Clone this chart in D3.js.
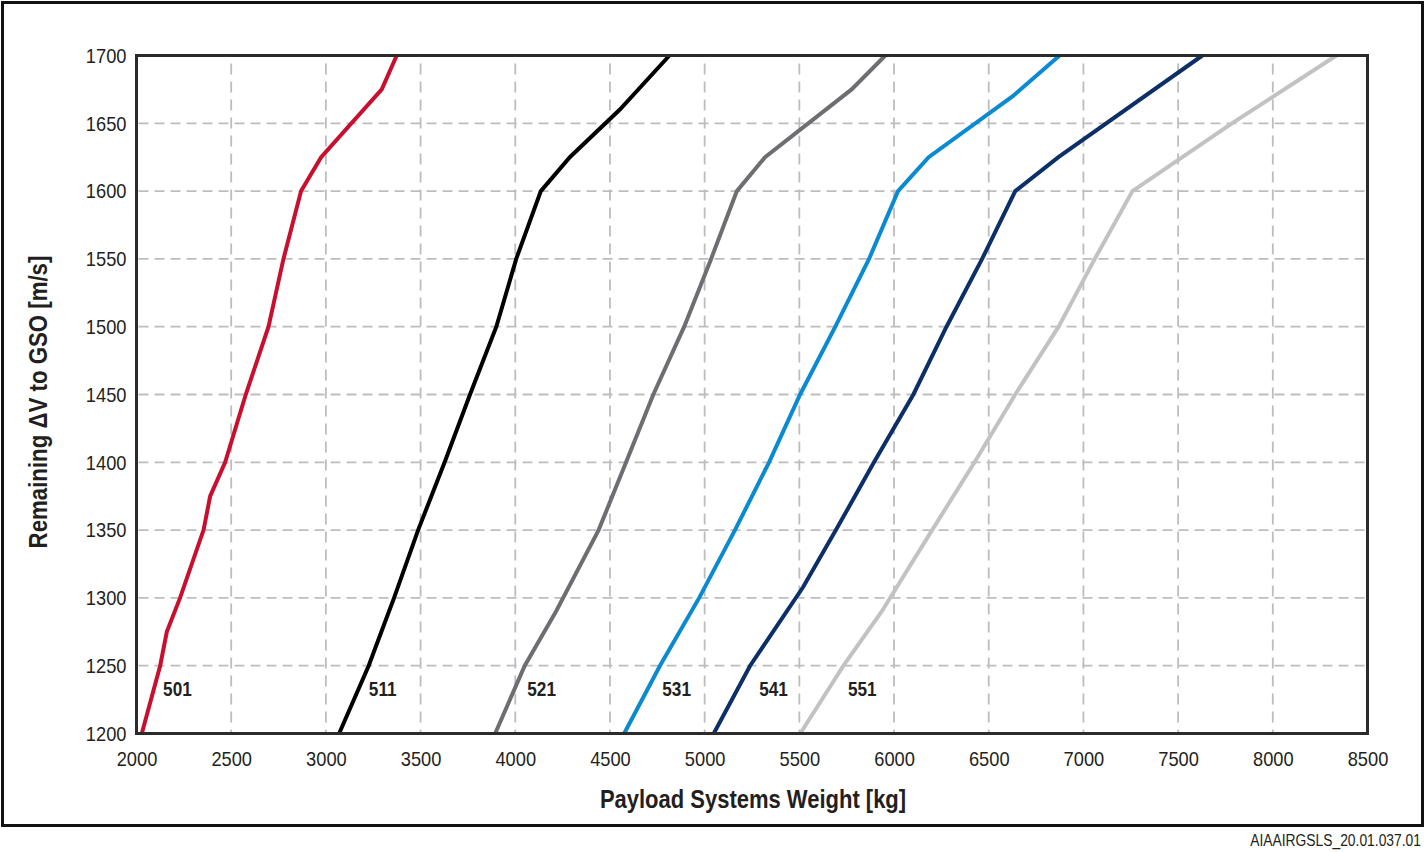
<!DOCTYPE html>
<html>
<head>
<meta charset="utf-8">
<script src="https://cdn.jsdelivr.net/npm/d3@7"></script>
<style>
  html, body { margin: 0; padding: 0; background: #fff; }
  svg { display: block; }
  text { font-family: "Liberation Sans", Arial, sans-serif; fill: #231f20; }
</style>
</head>
<body>
<svg id="chart" width="1426" height="852"></svg>
<script>
// ---------- data ----------
const categories = ["501", "511", "521", "531", "541", "551"];
const colors = ["#c8102e", "#000000", "#6d6e71", "#0a8ad0", "#0b2f66", "#c2c2c2"];

// [payload weight kg, remaining dV m/s]
const s501 = [[2028,1200],[2125,1250],[2160,1275],[2230,1300],[2354,1350],[2389,1375],[2468,1400],[2577,1450],[2697,1500],[2776,1550],[2869,1600],[2975,1625],[3295,1675],[3374,1700]];
const s511 = [[3070,1200],[3226,1250],[3293,1275],[3360,1300],[3487,1350],[3627,1400],[3761,1450],[3900,1500],[4005,1550],[4135,1600],[4288,1625],[4551,1660],[4814,1700]];
const s521 = [[3894,1200],[4050,1250],[4215,1290],[4440,1350],[4585,1400],[4729,1450],[4892,1500],[5034,1550],[5170,1600],[5319,1625],[5776,1675],[5954,1700]];
const s531 = [[4575,1200],[4764,1250],[4971,1300],[5160,1350],[5340,1400],[5504,1450],[5690,1500],[5868,1550],[6021,1600],[6183,1625],[6627,1670],[6874,1700]];
const s541 = [[5048,1200],[5240,1250],[5520,1308],[5693,1350],[5894,1400],[6102,1450],[6277,1500],[6465,1550],[6640,1600],[6868,1625],[7628,1700]];
const s551 = [[5505,1200],[5733,1250],[5935,1290],[6201,1350],[6425,1400],[6640,1450],[6869,1500],[7060,1550],[7259,1600],[7784,1650],[8336,1700]];
const seriesValues = [s501, s511, s521, s531, s541, s551];

// label anchor positions (weight kg) for each series label, all at dV = 1233
const labelWeights = [2216, 3300, 4139, 4852, 5364, 5832];
const labelDv = 1233;

const xTicks = [2000,2500,3000,3500,4000,4500,5000,5500,6000,6500,7000,7500,8000,8500];
const yTicks = [1200,1250,1300,1350,1400,1450,1500,1550,1600,1650,1700];

const xTitle = "Payload Systems Weight [kg]";
const yTitle = "Remaining \u0394V to GSO [m/s]";
const footer = "AIAAIRGSLS_20.01.037.01";

// ---------- layout ----------
const svg = d3.select("#chart");
const x = d3.scaleLinear().domain([2000, 8500]).range([136.5, 1367.5]);
const y = d3.scaleLinear().domain([1200, 1700]).range([733.5, 55.5]);
const [x0, x1] = x.range();
const [y0, y1] = [y(1700), y(1200)];
const NARROW = 0.87;

// outer frame
svg.append("rect")
  .attr("x", 2.5).attr("y", 2.5).attr("width", 1420).attr("height", 823)
  .attr("fill", "#fff").attr("stroke", "#111").attr("stroke-width", 3);

// grid
const grid = svg.append("g");
grid.selectAll("line.v").data(xTicks.slice(1, -1)).join("line")
  .attr("x1", d => x(d)).attr("x2", d => x(d))
  .attr("y1", y0 + 8).attr("y2", y1)
  .attr("stroke", "#bdbdbd").attr("stroke-width", 1.8).attr("stroke-dasharray", "11,7");
grid.selectAll("line.h").data(yTicks.slice(1, -1)).join("line")
  .attr("x1", x0 + 2).attr("x2", x1)
  .attr("y1", d => y(d)).attr("y2", d => y(d))
  .attr("stroke", "#bdbdbd").attr("stroke-width", 1.8).attr("stroke-dasharray", "10,6");

// lines
const line = d3.line().x(d => x(d[0])).y(d => y(d[1]));
svg.append("g").selectAll("path").data(seriesValues).join("path")
  .attr("d", line)
  .attr("fill", "none")
  .attr("stroke", (d, i) => colors[i])
  .attr("stroke-width", 4)
  .attr("stroke-linejoin", "miter");

// series labels
svg.append("g").selectAll("text").data(categories).join("text")
  .attr("transform", (d, i) => `translate(${x(labelWeights[i])}, ${y(labelDv)}) scale(0.86,1)`)
  .attr("text-anchor", "middle")
  .attr("dominant-baseline", "central")
  .attr("font-size", 20)
  .attr("font-weight", "bold")
  .text(d => d);

// plot frame
svg.append("rect")
  .attr("x", x0).attr("y", y0).attr("width", x1 - x0).attr("height", y1 - y0)
  .attr("fill", "none").attr("stroke", "#2b2b2b").attr("stroke-width", 3);

// axes (labels only)
const xAxis = d3.axisBottom(x).tickValues(xTicks).tickSize(0).tickPadding(0).tickFormat(d3.format("d"));
const gx = svg.append("g").attr("transform", `translate(0, ${y1 + 18})`).call(xAxis);
gx.select(".domain").remove();
gx.selectAll("text").attr("font-size", 21).attr("dy", "0.71em").attr("fill", "#231f20")
  .attr("transform", `scale(${NARROW},1)`)
  .style("font-family", '"Liberation Sans", Arial, sans-serif');

const yAxis = d3.axisLeft(y).tickValues(yTicks).tickSize(0).tickPadding(0).tickFormat(d3.format("d"));
const gy = svg.append("g").attr("transform", `translate(${x0 - 10}, 0)`).call(yAxis);
gy.select(".domain").remove();
gy.selectAll("text").attr("font-size", 21).attr("fill", "#231f20")
  .attr("transform", `scale(${NARROW},1)`)
  .style("font-family", '"Liberation Sans", Arial, sans-serif');

// titles
svg.append("text")
  .attr("transform", `translate(${(x0 + x1) / 2 + 1}, 808) scale(0.88,1)`)
  .attr("text-anchor", "middle")
  .attr("font-size", 25).attr("font-weight", "bold")
  .text(xTitle);

svg.append("text")
  .attr("transform", `translate(47, 402) rotate(-90) scale(0.89,1)`)
  .attr("text-anchor", "middle")
  .attr("font-size", 25).attr("font-weight", "bold")
  .text(yTitle);

svg.append("text")
  .attr("transform", `translate(1421, 846) scale(0.84,1)`)
  .attr("text-anchor", "end")
  .attr("font-size", 16.5)
  .text(footer);
</script>
</body>
</html>
